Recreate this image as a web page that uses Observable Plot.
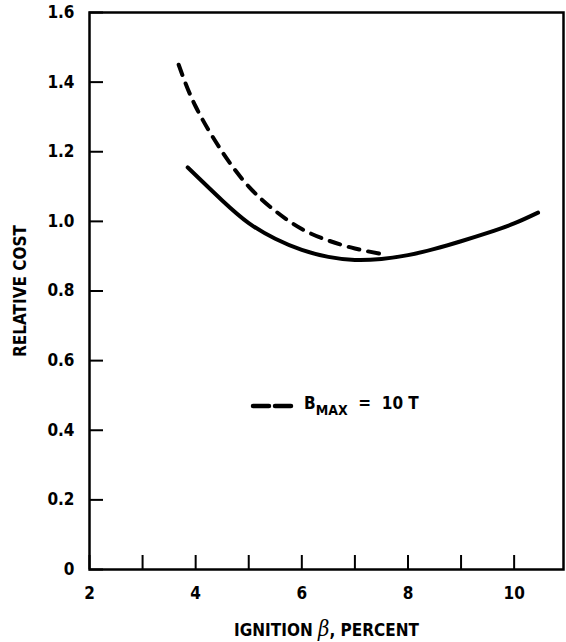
<!DOCTYPE html>
<html>
<head>
<meta charset="utf-8">
<script src="https://cdn.jsdelivr.net/npm/d3@7"></script>
<script src="https://cdn.jsdelivr.net/npm/@observablehq/plot@0.6"></script>
<style>
  html, body { margin: 0; padding: 0; background: #fff; }
  #wrap { position: relative; width: 566px; height: 642px; }
  svg { font-family: "DejaVu Sans Condensed", "DejaVu Sans", sans-serif; font-stretch: condensed; font-weight: bold; }
  #legend { position: absolute; left: 250px; top: 393px; display: flex; align-items: center;
    font-family: "DejaVu Sans Condensed", "DejaVu Sans", sans-serif; font-stretch: condensed; font-weight: bold; font-size: 17px; color: #000; }
  #legend sub { font-size: 14px; vertical-align: -6px; }
</style>
</head>
<body>
<div id="wrap"></div>
<script>
// Data
const solidX = [3.85, 4.5, 5.0, 5.5, 6.0, 6.5, 7.0, 7.5, 8.0, 8.5, 9.0, 9.5, 10.0, 10.45];
const solidY = [1.155, 1.06, 0.995, 0.95, 0.918, 0.898, 0.889, 0.892, 0.903, 0.921, 0.943, 0.967, 0.994, 1.025];
const dashX = [3.68, 4.0, 4.5, 5.0, 5.5, 6.0, 6.5, 7.0, 7.55];
const dashY = [1.45, 1.33, 1.2, 1.1, 1.03, 0.978, 0.945, 0.922, 0.905];
const xTicks = [2, 3, 4, 5, 6, 7, 8, 9, 10];
const xTickLabels = ["2", "4", "6", "8", "10"];
const xLabelValues = [2, 4, 6, 8, 10];
const yTicks = [0, 0.2, 0.4, 0.6, 0.8, 1.0, 1.2, 1.4, 1.6];
const yTickLabels = ["0", "0.2", "0.4", "0.6", "0.8", "1.0", "1.2", "1.4", "1.6"];
const xTitle = ["IGNITION ", "β", ", PERCENT"];
const yTitle = "RELATIVE COST";
const legendLabel = "B";
const legendSub = "MAX";
const legendValue = "10 T";

const solid = solidX.map((x, i) => ({x, y: solidY[i]}));
const dashed = dashX.map((x, i) => ({x, y: dashY[i]}));

const W = 566, H = 642;
const mL = 89, mR = 3, mT = 12, mB = 73;
const innerW = W - mL - mR, innerH = H - mT - mB;
const tickLen = 14;

const chart = Plot.plot({
  width: W, height: H,
  marginLeft: mL, marginRight: mR, marginTop: mT, marginBottom: mB,
  style: {fontSize: "17px", color: "#000", background: "#fff"},
  x: {domain: [2, 10.93], label: null},
  y: {domain: [0, 1.6], label: null},
  marks: [
    Plot.frame({stroke: "#000", strokeWidth: 2.5}),
    Plot.tickX(xTicks, {x: d => d, stroke: "#000", strokeWidth: 2, insetTop: innerH - tickLen}),
    Plot.tickY(yTicks, {y: d => d, stroke: "#000", strokeWidth: 2, insetRight: innerW - tickLen}),
    Plot.axisX({ticks: xLabelValues, tickFormat: (d, i) => xTickLabels[i], tickSize: 0, tickPadding: 17, fontSize: 17, fontWeight: "bold",
      label: xTitle.join(""), labelAnchor: "center", labelOffset: 66, labelArrow: "none"}),
    Plot.axisY({ticks: yTicks, tickFormat: (d, i) => yTickLabels[i], tickSize: 0, tickPadding: 15, fontSize: 17, fontWeight: "bold",
      label: yTitle, labelAnchor: "center", labelOffset: 76, labelArrow: "none"}),
    Plot.line(solid, {x: "x", y: "y", curve: "natural", stroke: "#000", strokeWidth: 4, strokeLinecap: "round"}),
    Plot.line(dashed, {x: "x", y: "y", curve: "natural", stroke: "#000", strokeWidth: 4, strokeDasharray: "11,9", strokeLinecap: "round"})
  ]
});
const wrap = document.getElementById("wrap");
wrap.appendChild(chart);

// style the beta in the x title
d3.select(chart).selectAll("text").each(function() {
  if (this.textContent === xTitle.join("")) {
    const t = d3.select(this);
    t.text(null);
    t.append("tspan").text(xTitle[0]);
    t.append("tspan").text(xTitle[1]).attr("font-style", "italic").attr("font-size", "22px").attr("font-weight", "normal").attr("font-family", "DejaVu Serif, serif");
    t.append("tspan").text(xTitle[2]);
  }
});

// legend overlay
const leg = document.createElement("div");
leg.id = "legend";
leg.innerHTML = `<svg width="46" height="8" style="margin-right:8px"><line x1="3" y1="4" x2="43" y2="4" stroke="#000" stroke-width="4.5" stroke-dasharray="16,6" stroke-linecap="round"/></svg>` +
  `<span>${legendLabel}<sub>${legendSub}</sub>&nbsp;&nbsp;=&nbsp;&nbsp;${legendValue}</span>`;
wrap.appendChild(leg);
</script>
</body>
</html>
